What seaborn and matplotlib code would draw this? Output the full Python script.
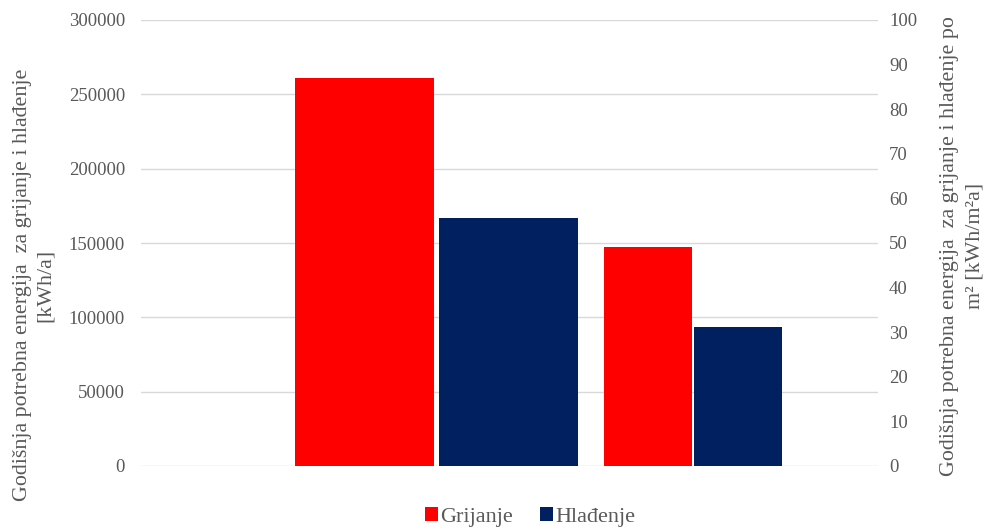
import matplotlib
matplotlib.use("Agg")
import matplotlib.pyplot as plt
import seaborn as sns
import pandas as pd
from matplotlib.patches import Patch

# ---- data ----
series = ["Grijanje", "Hlađenje"]
annual_kwh = [261000, 166800]          # primary axis [kWh/a]
per_m2_kwh = [49.0, 31.2]               # secondary axis [kWh/m2a]
groups = ["ukupno", "po m2"]
left_ticks = [0, 50000, 100000, 150000, 200000, 250000, 300000]
right_ticks = [0, 10, 20, 30, 40, 50, 60, 70, 80, 90, 100]
colors = {"Grijanje": "#FF0000", "Hlađenje": "#002060"}
left_label = ["Godišnja potrebna energija  za grijanje i hlađenje", "[kWh/a]"]
right_label = ["Godišnja potrebna energija  za grijanje i hlađenje po", "m² [kWh/m²a]"]

df1 = pd.DataFrame({"grupa": groups[0], "vrsta": series, "vrijednost": annual_kwh})
df2 = pd.DataFrame({"grupa": groups[1], "vrsta": series, "vrijednost": per_m2_kwh})

sns.set_theme(style="white")
plt.rcParams["font.family"] = ["Liberation Serif", "DejaVu Serif"]
grey = "#595959"

W, H = 987, 529
fig = plt.figure(figsize=(W/100, H/100), dpi=100)
ax = fig.add_axes([141/W, 1-466/H, (878-141)/W, (466-20)/H])

sns.barplot(data=df1, x="grupa", y="vrijednost", hue="vrsta", order=groups,
            hue_order=series, palette=colors, saturation=1, width=1.124, gap=0.04,
            linewidth=0, legend=False, ax=ax, zorder=3)
ax2 = ax.twinx()
sns.barplot(data=df2, x="grupa", y="vrijednost", hue="vrsta", order=groups,
            hue_order=series, palette=colors, saturation=1, width=0.70, gap=0.02,
            linewidth=0, legend=False, ax=ax2, zorder=3)

ax.set_xlim(-1.152, 1.722)
ax.set_ylim(0, 300000)
ax2.set_ylim(0, 100)
ax.set_yticks(left_ticks)
ax.set_yticklabels([str(t) for t in left_ticks])
ax2.set_yticks(right_ticks)
ax2.set_yticklabels([str(t) for t in right_ticks])
ax.set_xticks([])
for a in (ax, ax2):
    a.set_xlabel("")
    a.set_ylabel("")
    for s in a.spines.values():
        s.set_visible(False)

ax.grid(axis="y", color="#D9D9D9", linewidth=1)
ax.set_axisbelow(True)
ax2.grid(False)

ax.tick_params(axis="y", length=0, pad=11.5, labelsize=13.5, labelcolor=grey)
ax2.tick_params(axis="y", length=0, pad=8, labelsize=13.5, labelcolor=grey)

renderer = fig.canvas.get_renderer()


def fitted_label(lines, target_px, cx, cy, gap_px):
    t = fig.text(0, 0, lines[0], fontsize=10)
    w = t.get_window_extent(renderer).width
    t.remove()
    fs = 10 * target_px / w
    ls = gap_px / (fs * 100 / 72 * 0.91)
    fig.text(cx/W, 1-cy/H, "\n".join(lines), fontsize=fs, color=grey,
             rotation=90, ha="center", va="center", multialignment="center",
             linespacing=ls, rotation_mode="anchor")


fitted_label(left_label, 434, 34, 285, 25)
fitted_label(right_label, 462, 962, 246, 29)

handles = [Patch(facecolor=colors[s], edgecolor="none", label=s) for s in series]
leg = fig.legend(handles=handles, loc="center", bbox_to_anchor=(530/W, 1-517/H),
                 ncol=2, frameon=False, fontsize=16, handlelength=0.6,
                 handleheight=0.6, handletextpad=0.1, columnspacing=1.2)
for t in leg.get_texts():
    t.set_color(grey)

fig.savefig("out.png", dpi=100)
